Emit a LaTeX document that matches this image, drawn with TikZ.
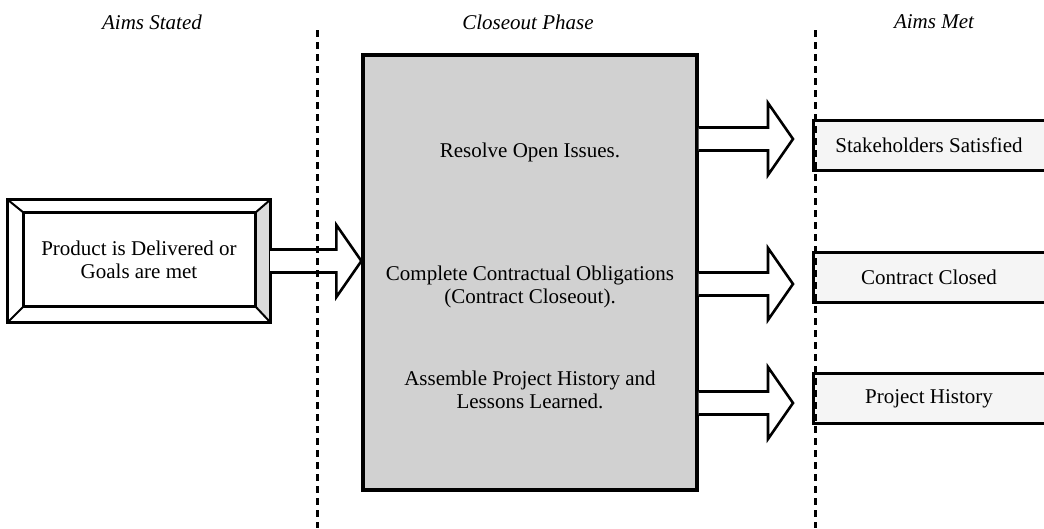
\documentclass[tikz,border=0pt]{standalone}
\usepackage{fontspec}
\setmainfont{Liberation Serif}
\usetikzlibrary{calc}
\tikzset{
  title/.style={font=\fontsize{21}{24}\selectfont\itshape, inner sep=0pt},
  lbl/.style={font=\fontsize{21}{23.5}\selectfont, align=center, inner sep=0pt},
  divider/.style={line width=3pt, dash pattern=on 7pt off 5pt},
  bigarrow/.style={draw, line width=2.6pt, fill=white, line join=miter},
  boxline/.style={line width=3pt, line join=miter},
  phasebox/.style={draw, line width=3.2pt, fill=black!18, rectangle, minimum width=334, minimum height=435, inner sep=0pt},
  aimbox/.style={rectangle, fill=black!4, draw=none, minimum width=230, minimum height=49, inner sep=0pt,
    font=\fontsize{21}{24}\selectfont},
  bevelbox/.style={rectangle, draw=none, minimum width=262, minimum height=122, inner sep=0pt, align=center,
    font=\fontsize{21}{23.5}\selectfont}
}
\newcommand{\fatarrow}[2]{%
  \path[bigarrow] let \p1=(#1), \p2=(#2) in
    (\x1,{\y1+11.5pt}) -- ({\x2-25pt},{\y1+11.5pt}) -- ({\x2-25pt},{\y1+36pt}) -- (\x2,\y1)
    -- ({\x2-25pt},{\y1-36pt}) -- ({\x2-25pt},{\y1-11.5pt}) -- (\x1,{\y1-11.5pt});}
\begin{document}
\begin{tikzpicture}[x=1pt,y=-1pt]
\useasboundingbox (0,0) rectangle (1044,528);

% column titles
\node[title] (tstated) at (152,22) {Aims Stated};
\node[title] (tphase) at (528,22) {Closeout Phase};
\node[title] (tmet) at (934,22) {Aims Met};

% dividers
\coordinate (d1top) at (317,30);
\coordinate (d1bot) at (317,528);
\coordinate (d2top) at (815,30);
\coordinate (d2bot) at (815,528);

% closeout phase box
\node[phasebox] (phase) at (530,272.5) {};
\node[lbl] (resolve) at (530,152) {Resolve Open Issues.};
\node[lbl] (contract) at (530,287) {Complete Contractual Obligations\\(Contract Closeout).};
\node[lbl] (history) at (530,390) {Assemble Project History and\\Lessons Learned.};

% bevelled goal box
\node[bevelbox] (goal) at (139,261) {};
\coordinate (gnw) at ($(goal.north west)+(16,13)$);
\coordinate (gne) at ($(goal.north east)+(-15,13)$);
\coordinate (gse) at ($(goal.south east)+(-15,-16)$);
\coordinate (gsw) at ($(goal.south west)+(16,-16)$);
\fill[black!14] (goal.north east) -- (gne) -- (gse) -- (goal.south east) -- cycle;
\draw[boxline] (goal.north west) rectangle (goal.south east);
\draw[boxline] (gnw) rectangle (gse);
\draw[line width=2pt] (goal.north west) -- (gnw) (goal.north east) -- (gne)
  (goal.south east) -- (gse) (goal.south west) -- (gsw);
\node[lbl] (goaltext) at (139,260) {Product is Delivered or\\Goals are met};

% outcome boxes
\node[aimbox] (m1) at (929,145.5) {Stakeholders Satisfied};
\node[aimbox] (m2) at (929,277.5) {Contract Closed};
\node[aimbox] (m3) at (929,398.5) {Project History};

\foreach \m in {m1,m2,m3}{
  \draw[boxline] (\m.north east) -- (\m.north west) -- (\m.south west) -- (\m.south east);
}

% arrows
\coordinate (a0s) at (goal.east);
\coordinate (a0t) at (goal.east -| phase.west);
\fatarrow{a0s}{a0t}

\coordinate (a1s) at ($(phase.east |- 0,139)$);
\coordinate (a1t) at (793,139);
\coordinate (a2s) at ($(phase.east |- 0,284)$);
\coordinate (a2t) at (793,284);
\coordinate (a3s) at ($(phase.east |- 0,403)$);
\coordinate (a3t) at (793,403);
\fatarrow{a1s}{a1t}
\fatarrow{a2s}{a2t}
\fatarrow{a3s}{a3t}

% dividers drawn on top
\draw[divider] (d1top) -- (d1bot);
\draw[divider] (d2top) -- (d2bot);
\end{tikzpicture}
\end{document}
